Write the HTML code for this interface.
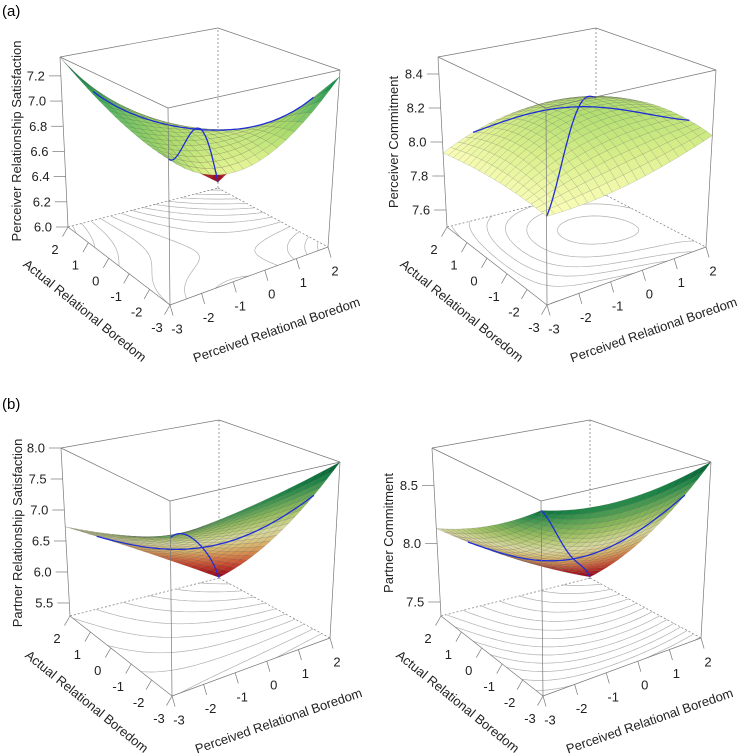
<!DOCTYPE html>
<html><head><meta charset="utf-8"><style>
html,body{margin:0;padding:0;background:#fff;}
svg{display:block;font-family:"Liberation Sans",Arial,sans-serif;}
</style></head><body>
<svg id="fig" width="742" height="755" viewBox="0 0 742 755" xmlns="http://www.w3.org/2000/svg">
<rect width="742" height="755" fill="#fff"/>
<text x="2" y="16" font-size="15">(a)</text>
<text x="2" y="409" font-size="15">(b)</text>
</svg>
<script>
// grid node coordinates (both axes)
const gridNodes = [-3, -0.5, 2];
const axisTicks = [-3, -2, -1, 0, 1, 2];
// z values at grid nodes: rows = actual boredom (-3,-0.5,2), cols = perceived boredom (-3,-0.5,2)
const zPerceiverSat = [[7.0, 6.8, 7.3], [7.1, 6.87, 6.71], [7.35, 6.6, 6.05]];
const zPerceiverCom = [[7.95, 7.99, 8.13], [7.97, 8.2, 8.17], [7.935, 8.09, 8.07]];
const zPartnerSat = [[7.49, 7.66, 8.0], [7.1, 6.68, 6.47], [6.73, 6.05, 5.3]];
const zPartnerCom = [[8.75, 8.68, 8.82], [8.41, 8.03, 8.01], [8.13, 7.72, 7.39]];
const zTicksPerceiverSat = [6.0, 6.2, 6.4, 6.6, 6.8, 7.0, 7.2];
const zTicksPerceiverCom = [7.6, 7.8, 8.0, 8.2, 8.4];
const zTicksPartnerSat = [5.5, 6.0, 6.5, 7.0, 7.5, 8.0];
const zTicksPartnerCom = [7.5, 8.0, 8.5];

const palette = ["#a50026","#d73027","#f46d43","#fdae61","#fee08b","#ffffbf","#d9ef8b","#a6d96a","#66bd63","#1a9850","#006837"];
const NS = "http://www.w3.org/2000/svg";
const svg = document.getElementById("fig");

const panels = [
 {id:"perceiver-satisfaction", z:zPerceiverSat, ticks:zTicksPerceiverSat, zr:[6.0,7.35], cd:[6.05,7.35], step:0.1, fmt:1,
  title:"Perceiver Relationship Satisfaction", tx:12, ty:141,
  bot:{F:[170,305],L:[68,227],R:[328,247],B:[218,188]}, top:{F:[168,108],L:[60,57],R:[340,70],B:[218,28]}},
 {id:"perceiver-commitment", z:zPerceiverCom, ticks:zTicksPerceiverCom, zr:[7.5,8.5], cd:[7.1,8.75], step:0.05, fmt:1,
  title:"Perceiver Commitment", tx:389, ty:142,
  bot:{F:[547,305],L:[447,227],R:[706,247],B:[596,190]}, top:{F:[546,108],L:[438,57],R:[716,70],B:[596,28]}},
 {id:"partner-satisfaction", z:zPartnerSat, ticks:zTicksPartnerSat, zr:[5.29,8.0], cd:[5.3,8.0], step:0.25, fmt:1,
  title:"Partner Relationship Satisfaction", tx:13, ty:533,
  bot:{F:[172,696],L:[70,616],R:[330,638],B:[219,578]}, top:{F:[170,501],L:[61,448],R:[340,462],B:[219,420]}},
 {id:"partner-commitment", z:zPartnerCom, ticks:zTicksPartnerCom, zr:[7.38,8.82], cd:[7.39,8.82], step:0.1, fmt:1,
  title:"Partner Commitment", tx:384, ty:533,
  bot:{F:[543,696],L:[441,616],R:[701,638],B:[590,578]}, top:{F:[541,501],L:[432,448],R:[711,462],B:[590,420]}}
];

function lag(x){const [x0,x1,x2]=gridNodes;
 return [((x-x1)*(x-x2))/((x0-x1)*(x0-x2)),((x-x0)*(x-x2))/((x1-x0)*(x1-x2)),((x-x0)*(x-x1))/((x2-x0)*(x2-x1))];}
function zAt(g,p,a){const lp=lag(p),la=lag(a);let s=0;for(let i=0;i<3;i++)for(let j=0;j<3;j++)s+=la[i]*lp[j]*g[i][j];return s;}
function bil(c,u,v){return [c.F[0]*(1-u)*(1-v)+c.R[0]*u*(1-v)+c.L[0]*(1-u)*v+c.B[0]*u*v,
 c.F[1]*(1-u)*(1-v)+c.R[1]*u*(1-v)+c.L[1]*(1-u)*v+c.B[1]*u*v];}
function hex(c){return [parseInt(c.slice(1,3),16),parseInt(c.slice(3,5),16),parseInt(c.slice(5,7),16)];}
function colorFor(t,shade){t=Math.max(0,Math.min(1,t));const x=t*(palette.length-1);const i=Math.min(palette.length-2,Math.floor(x));const f=x-i;
 const a=hex(palette[i]),b=hex(palette[i+1]);return "rgb("+a.map((v,k)=>Math.round((v+(b[k]-v)*f)*shade)).join(",")+")";}
function mk(tag,attrs,parent){const e=document.createElementNS(NS,tag);for(const k in attrs)e.setAttribute(k,attrs[k]);parent.appendChild(e);return e;}
function pts(a){return a.map(p=>p[0].toFixed(1)+","+p[1].toFixed(1)).join(" ");}

panels.forEach(P=>{
 const g=mk("g",{},svg);
 
 
 const proj=(p,a,z)=>{const u=(p+3)/5,v=(a+3)/5,w=(z-P.zr[0])/(P.zr[1]-P.zr[0]);
  const b=bil(P.bot,u,v),t=bil(P.top,u,v);return [b[0]*(1-w)+t[0]*w,b[1]*(1-w)+t[1]*w];};
 const line=(a,b,dash,name)=>{const l=mk("line",{x1:a[0],y1:a[1],x2:b[0],y2:b[1],stroke:"#777","stroke-width":0.7},g);
  if(dash)l.setAttribute("stroke-dasharray","2,2");
  
  };
 const bt=P.bot,tp=P.top;
 line(bt.B,tp.B,true,'box-back-edge');line(bt.L,bt.B,true,'box-back-edge');line(bt.B,bt.R,true,'box-back-edge');
 const N=40,z0=P.zr[0];const vals=[];
 for(let i=0;i<=N;i++){vals.push([]);for(let j=0;j<=N;j++)vals[i].push(zAt(P.z,-3+5*j/N,-3+5*i/N));}
 let mn=Infinity,mx=-Infinity;vals.forEach(r=>r.forEach(v=>{mn=Math.min(mn,v);mx=Math.max(mx,v);}));
 let d="";
 for(let lv=Math.ceil(mn/P.step)*P.step;lv<mx;lv+=P.step){
  for(let i=0;i<N;i++)for(let j=0;j<N;j++){
   const c=[[j,i],[j+1,i],[j+1,i+1],[j,i+1]];const cv=c.map(q=>vals[q[1]][q[0]]);const cr=[];
   for(let k=0;k<4;k++){const k2=(k+1)%4;const va=cv[k],vb=cv[k2];
    if((va-lv)*(vb-lv)<0){const f=(lv-va)/(vb-va);const gx=c[k][0]+(c[k2][0]-c[k][0])*f,gy=c[k][1]+(c[k2][1]-c[k][1])*f;
     cr.push(proj(-3+5*gx/N,-3+5*gy/N,z0));}}
   if(cr.length>=2)d+="M"+cr[0][0].toFixed(1)+","+cr[0][1].toFixed(1)+"L"+cr[1][0].toFixed(1)+","+cr[1][1].toFixed(1);
   if(cr.length===4)d+="M"+cr[2][0].toFixed(1)+","+cr[2][1].toFixed(1)+"L"+cr[3][0].toFixed(1)+","+cr[3][1].toFixed(1);
  }}
 const cp=mk("path",{d:d,fill:"none",stroke:"#b0b0b0","stroke-width":0.7},g);
 
 
 const M=20;const quads=[];
 const ref=(()=>{const a=proj(-3,-3,z0),b=proj(2,-3,z0),c=proj(2,2,z0);return Math.sign((b[0]-a[0])*(c[1]-a[1])-(b[1]-a[1])*(c[0]-a[0]));})();
 for(let i=0;i<M;i++)for(let j=0;j<M;j++){
  const ps=[[j,i],[j+1,i],[j+1,i+1],[j,i+1]].map(q=>{const p=-3+5*q[0]/M,a=-3+5*q[1]/M;return [p,a,zAt(P.z,p,a)];});
  const sc=ps.map(q=>proj(q[0],q[1],q[2]));
  const zm=ps.reduce((s,q)=>s+q[2],0)/4;
  const cr=(sc[1][0]-sc[0][0])*(sc[2][1]-sc[0][1])-(sc[1][1]-sc[0][1])*(sc[2][0]-sc[0][0]);
  quads.push({sc,zm,depth:i+j,under:Math.sign(cr)!==ref});}
 quads.sort((a,b)=>b.depth-a.depth);
 const sg=mk("g",{},g);
 
 
 quads.forEach(q=>{const t=(q.zm-P.cd[0])/(P.cd[1]-P.cd[0]);
  const e=mk("polygon",{points:pts(q.sc),fill:colorFor(t,q.under?0.85:1),stroke:"rgba(70,70,70,0.35)","stroke-width":0.4},sg);
  
  });
 let dl="",di="";
 for(let k=0;k<=60;k++){const p=-3+5*k/60;const s=proj(p,p,zAt(P.z,p,p));dl+=(k?"L":"M")+s[0].toFixed(1)+","+s[1].toFixed(1);}
 for(let k=0;k<=60;k++){const p=-2+4*k/60;const s=proj(p,-p,zAt(P.z,p,-p));di+=(k?"L":"M")+s[0].toFixed(1)+","+s[1].toFixed(1);}
 const l1=mk("path",{d:dl,fill:"none",stroke:"#1f2fd6","stroke-width":1.3},g);
 
 
 const l2=mk("path",{d:di,fill:"none",stroke:"#1f2fd6","stroke-width":1.3},g);
 
 
 line(bt.F,bt.L,false,'box-edge');line(bt.F,bt.R,false,'box-edge');
 line(bt.F,tp.F,false,'box-edge');line(bt.L,tp.L,false,'box-edge');line(bt.R,tp.R,false,'box-edge');
 line(tp.F,tp.L,false,'box-edge');line(tp.F,tp.R,false,'box-edge');line(tp.L,tp.B,false,'box-edge');line(tp.B,tp.R,false,'box-edge');
 P.ticks.forEach(v=>{const s=proj(-3,2,v);
  line([s[0]-12,s[1]],s,false,'z-tick');
  const t=mk("text",{x:s[0]-16,y:s[1]+4.5,"font-size":13,"text-anchor":"end",fill:"#222"},g);t.textContent=v.toFixed(P.fmt);
  
  });
 axisTicks.forEach(v=>{const s=proj(-3,v,z0);const dx=-0.5,dy=0.87;
  line(s,[s[0]+dx*11,s[1]+dy*11],false,'actual-tick');
  const t=mk("text",{x:s[0]+dx*26,y:s[1]+dy*26+4.5,"font-size":13,"text-anchor":"middle",fill:"#222"},g);t.textContent=v;
  
  });
 axisTicks.forEach(v=>{const s=proj(v,-3,z0);const dx=0.28,dy=0.96;
  line(s,[s[0]+dx*11,s[1]+dy*11],false,'perceived-tick');
  const t=mk("text",{x:s[0]+dx*25,y:s[1]+dy*25+4.5,"font-size":13,"text-anchor":"middle",fill:"#222"},g);t.textContent=v;
  
  });
 const F=bt.F;
 const ta=mk("text",{x:0,y:0,"font-size":13,"text-anchor":"middle",fill:"#222",transform:`translate(${F[0]-88},${F[1]+9}) rotate(39)`},g);
 ta.textContent="Actual Relational Boredom";
 
 
 const tpp=mk("text",{x:0,y:0,"font-size":13,"text-anchor":"middle",fill:"#222",transform:`translate(${F[0]+108},${F[1]+29}) rotate(-19)`},g);
 tpp.textContent="Perceived Relational Boredom";
 
 
 const tz=mk("text",{x:0,y:0,"font-size":13,"text-anchor":"middle",fill:"#222",transform:`translate(${P.tx+9},${P.ty}) rotate(-90)`},g);
 tz.textContent=P.title;
 
 
});
</script>
</body></html>
